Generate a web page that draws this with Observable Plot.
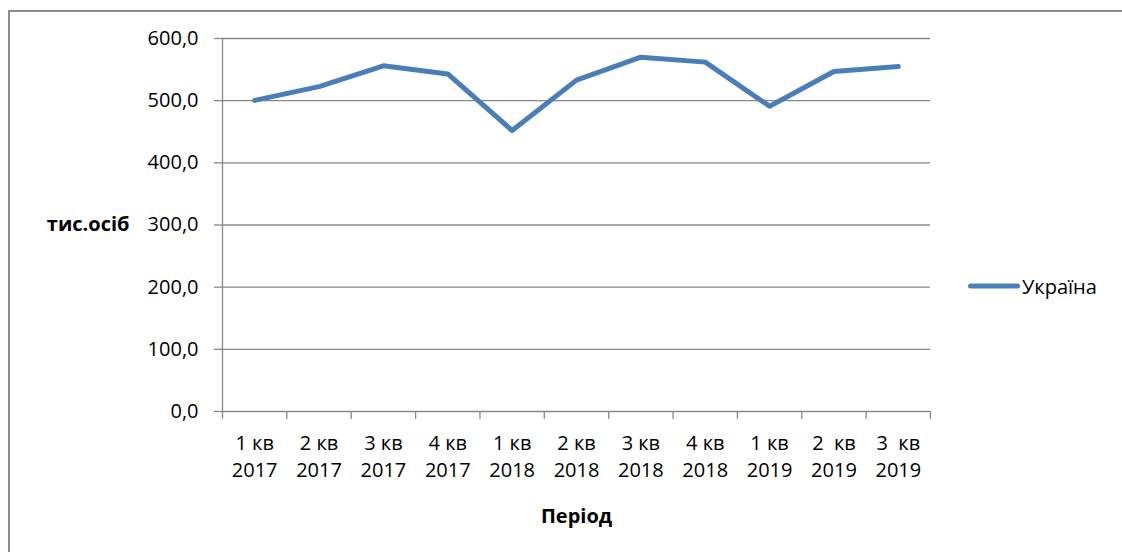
<!DOCTYPE html>
<html>
<head>
<meta charset="utf-8">
<script src="https://cdn.jsdelivr.net/npm/d3@7"></script>
<script src="https://cdn.jsdelivr.net/npm/@observablehq/plot@0.6"></script>
<style>
  html, body { margin: 0; padding: 0; background: #fff; }
  #wrap { position: relative; width: 1122px; height: 552px; overflow: hidden; font-family: "Open Sans", sans-serif; }
  #frame { position: absolute; left: 8px; top: 10px; width: 1200px; height: 600px; border-left: 2px solid #8c8c8c; border-top: 2px solid #8c8c8c; box-sizing: border-box; }
  #chart { position: absolute; left: 0; top: 0; }
  #legend { position: absolute; left: 968px; top: 286px; transform: translateY(-50%); display: flex; align-items: center; font-size: 20px; color: #000; }
  #legend .swatch { width: 52px; height: 5px; background: #4a7ebb; border-radius: 3px; margin-right: 2px; }
</style>
</head>
<body>
<div id="wrap">
  <div id="frame"></div>
  <div id="chart"></div>
  <div id="legend"><span class="swatch"></span><span>Україна</span></div>
</div>
<script>
const categories = [
  "1 кв\n2017", "2 кв\n2017", "3 кв\n2017", "4 кв\n2017",
  "1 кв\n2018", "2 кв\n2018", "3 кв\n2018", "4 кв\n2018",
  "1 кв\n2019", "2\u00a0 кв\n2019", "3\u00a0 кв\n2019"
];
const values = [500.5, 522.5, 556.0, 543.0, 452.0, 533.0, 570.0, 562.0, 491.0, 547.0, 555.0];
const yTicks = [0, 100, 200, 300, 400, 500, 600];
const seriesName = "Україна";
const yLabel = "тис.осіб";
const xLabel = "Період";

const data = categories.map((c, i) => ({i, label: c, value: values[i]}));
const boundaries = d3.range(-0.5, categories.length, 1);

const grey = "#888888";
const fs = 20;
const chart = Plot.plot({
  width: 1122,
  height: 552,
  marginLeft: 222,
  marginRight: 192,
  marginTop: 38,
  marginBottom: 141,
  style: {fontFamily: "'Open Sans', sans-serif", fontSize: fs + "px", color: "#000", background: "transparent"},
  x: {domain: [-0.5, categories.length - 0.5], axis: null},
  y: {domain: [0, 600], axis: null},
  marks: [
    Plot.ruleY(yTicks, {stroke: grey, strokeWidth: 1.3}),
    Plot.ruleX([-0.5], {stroke: grey, strokeWidth: 1.3}),
    Plot.axisY({ticks: yTicks, tickFormat: d => d.toFixed(1).replace(".", ","), tickSize: 8, tickPadding: 16, stroke: grey, strokeWidth: 1.3, fontSize: fs, label: null}),
    Plot.axisX({ticks: boundaries, tickFormat: () => "", tickSize: 8, stroke: grey, strokeWidth: 1.3, label: null}),
    Plot.text(data, {x: "i", y: 0, text: "label", dy: 43.5, lineAnchor: "middle", lineHeight: 27 / fs, fontSize: fs}),
    Plot.text([xLabel], {x: (categories.length - 1) / 2, y: 0, dy: 105, lineAnchor: "middle", fontWeight: "bold", fontSize: fs}),
    Plot.text([yLabel], {x: -0.5, y: 300, dx: -93, textAnchor: "end", lineAnchor: "middle", fontWeight: "bold", fontSize: fs}),
    Plot.line(data, {x: "i", y: "value", stroke: "#4a7ebb", strokeWidth: 5, strokeLinejoin: "round", strokeLinecap: "round"})
  ]
});
document.getElementById("chart").appendChild(chart);
document.querySelector("#legend span:last-child").textContent = seriesName;
</script>
</body>
</html>
